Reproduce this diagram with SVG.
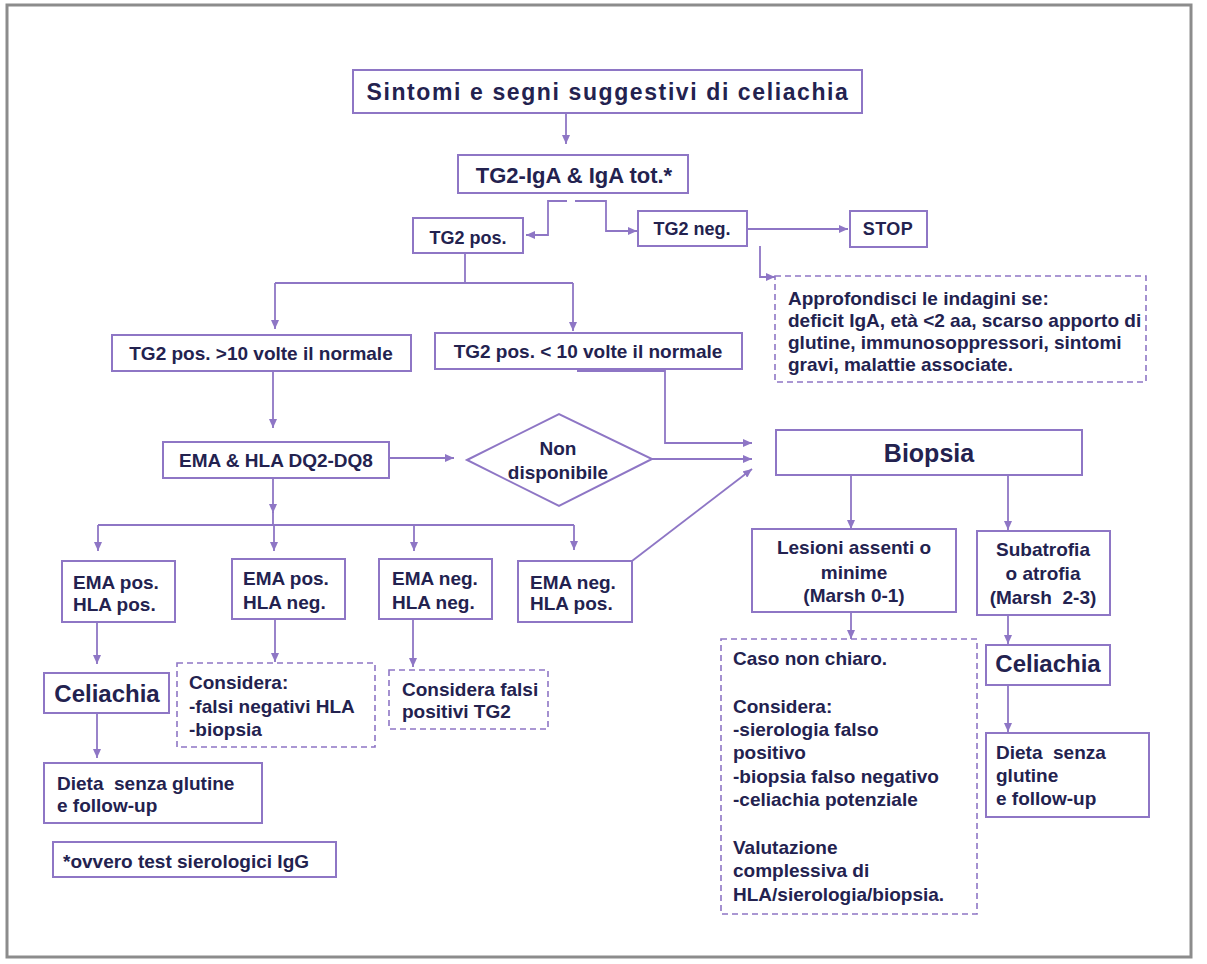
<svg xmlns="http://www.w3.org/2000/svg" width="1207" height="964" viewBox="0 0 1207 964">
<style>
.frame{fill:#fff;stroke:#8c8c8c;stroke-width:3}
.box{fill:#fff;stroke:#8e76c5;stroke-width:2}
.dbox{fill:#fff;stroke:#8e76c5;stroke-width:1.6;stroke-dasharray:6 4}
.ln{fill:none;stroke:#8e76c5;stroke-width:1.8}
.t{font-family:"Liberation Sans",Arial,sans-serif;font-weight:bold;fill:#23224f;font-size:19px}
.c{text-anchor:middle}
.s18{font-size:18px}
.s22{font-size:22px}
.s23{font-size:23px}
.s24{font-size:24px}
.s25{font-size:25px}
</style>
<defs>
<marker id="ah" markerUnits="userSpaceOnUse" markerWidth="9" markerHeight="8" refX="9" refY="4" orient="auto">
<path d="M0,0 L9,4 L0,8 z" fill="#8e76c5"/>
</marker>
</defs>
<rect class="frame" x="7" y="5" width="1184" height="952"/>

<g id="connectors">
<path class="ln" d="M566,113 V144" marker-end="url(#ah)"/>
<path class="ln" d="M567,201 H548 V235 H526" marker-end="url(#ah)"/>
<path class="ln" d="M575,201 H606 V231 H637" marker-end="url(#ah)"/>
<path class="ln" d="M747,229 H848" marker-end="url(#ah)"/>
<path class="ln" d="M760,246 V277 H775" marker-end="url(#ah)"/>
<path class="ln" d="M465,253 V283 M275,283 H573"/>
<path class="ln" d="M275,283 V329" marker-end="url(#ah)"/>
<path class="ln" d="M573,283 V331" marker-end="url(#ah)"/>
<path class="ln" d="M273,371 V428" marker-end="url(#ah)"/>
<path class="ln" d="M577,371 H665 V443 H752" marker-end="url(#ah)"/>
<path class="ln" d="M389,458 H454" marker-end="url(#ah)"/>
<path class="ln" d="M652,459 H752" marker-end="url(#ah)"/>
<path class="ln" d="M632,561 L752,469" marker-end="url(#ah)"/>
<path class="ln" d="M273,478 V513" marker-end="url(#ah)"/>
<path class="ln" d="M273,512 V525 M98,525 H574"/>
<path class="ln" d="M98,525 V551" marker-end="url(#ah)"/>
<path class="ln" d="M274,525 V551" marker-end="url(#ah)"/>
<path class="ln" d="M414,525 V551" marker-end="url(#ah)"/>
<path class="ln" d="M574,525 V550" marker-end="url(#ah)"/>
<path class="ln" d="M97,622 V664" marker-end="url(#ah)"/>
<path class="ln" d="M97,713 V758" marker-end="url(#ah)"/>
<path class="ln" d="M275,619 V662" marker-end="url(#ah)"/>
<path class="ln" d="M413,619 V667" marker-end="url(#ah)"/>
<path class="ln" d="M851,475 V529" marker-end="url(#ah)"/>
<path class="ln" d="M1008,475 V530" marker-end="url(#ah)"/>
<path class="ln" d="M851,612 V639" marker-end="url(#ah)"/>
<path class="ln" d="M1008,615 V644" marker-end="url(#ah)"/>
<path class="ln" d="M1008,685 V732" marker-end="url(#ah)"/>
</g>

<g id="n-sintomi"><rect class="box" x="353" y="70" width="509" height="43"/>
<text class="t c s23" x="608" y="100" letter-spacing="1.6">Sintomi e segni suggestivi di celiachia</text></g>
<g id="n-tg2iga"><rect class="box" x="458" y="155" width="230" height="38"/>
<text class="t c s22" x="574" y="183">TG2-IgA &amp; IgA tot.*</text></g>
<g id="n-tg2pos"><rect class="box" x="413" y="218" width="110" height="35"/>
<text class="t c s18" x="468" y="244">TG2 pos.</text></g>
<g id="n-tg2neg"><rect class="box" x="638" y="211" width="109" height="35"/>
<text class="t c s18" x="692" y="235">TG2 neg.</text></g>
<g id="n-stop"><rect class="box" x="850" y="211" width="77" height="36"/>
<text class="t c s18" x="888" y="235" letter-spacing="0.5">STOP</text></g>
<g id="n-approfondisci"><rect class="dbox" x="775" y="276" width="371" height="106"/>
<text class="t" x="788" y="305">Approfondisci le indagini se:</text>
<text class="t" x="788" y="327">deficit IgA, età &lt;2 aa, scarso apporto di</text>
<text class="t" x="788" y="349">glutine, immunosoppressori, sintomi</text>
<text class="t" x="788" y="371">gravi, malattie associate.</text></g>
<g id="n-pos10"><rect class="box" x="112" y="335" width="299" height="36"/>
<text class="t c" x="261" y="360">TG2 pos. &gt;10 volte il normale</text></g>
<g id="n-poslt10"><rect class="box" x="435" y="333" width="307" height="36"/>
<text class="t c" x="588" y="358">TG2 pos. &lt; 10 volte il normale</text></g>
<g id="n-emahla"><rect class="box" x="163" y="442" width="226" height="36"/>
<text class="t c" x="276" y="467">EMA &amp; HLA DQ2-DQ8</text></g>
<g id="n-nondisp"><polygon class="box" points="467,460 559,414 652,459 559,506" stroke-width="1.6"/>
<text class="t c" x="558" y="455">Non</text>
<text class="t c" x="558" y="479">disponibile</text></g>
<g id="n-biopsia"><rect class="box" x="776" y="430" width="306" height="45"/>
<text class="t c s25" x="929" y="462">Biopsia</text></g>
<g id="n-b1"><rect class="box" x="62" y="561" width="113" height="61"/>
<text class="t" x="73" y="589">EMA pos.</text><text class="t" x="73" y="611">HLA pos.</text></g>
<g id="n-b2"><rect class="box" x="232" y="559" width="113" height="60"/>
<text class="t" x="243" y="585">EMA pos.</text><text class="t" x="243" y="609">HLA neg.</text></g>
<g id="n-b3"><rect class="box" x="379" y="559" width="113" height="60"/>
<text class="t" x="392" y="585">EMA neg.</text><text class="t" x="392" y="609">HLA neg.</text></g>
<g id="n-b4"><rect class="box" x="518" y="561" width="114" height="61"/>
<text class="t" x="530" y="589">EMA neg.</text><text class="t" x="530" y="610">HLA pos.</text></g>
<g id="n-lesioni"><rect class="box" x="752" y="529" width="204" height="83"/>
<text class="t c" x="854" y="554">Lesioni assenti o</text>
<text class="t c" x="854" y="579">minime</text>
<text class="t c" x="854" y="602">(Marsh 0-1)</text></g>
<g id="n-subatrofia"><rect class="box" x="977" y="531" width="133" height="84"/>
<text class="t c" x="1043" y="556">Subatrofia</text>
<text class="t c" x="1043" y="580">o atrofia</text>
<text class="t c" x="1043" y="604" xml:space="preserve">(Marsh  2-3)</text></g>
<g id="n-caso"><rect class="dbox" x="721" y="639" width="256" height="275"/>
<text class="t" x="733" y="665">Caso non chiaro.</text>
<text class="t" x="733" y="713">Considera:</text>
<text class="t" x="733" y="736">-sierologia falso</text>
<text class="t" x="733" y="759">positivo</text>
<text class="t" x="733" y="783">-biopsia falso negativo</text>
<text class="t" x="733" y="806">-celiachia potenziale</text>
<text class="t" x="733" y="854">Valutazione</text>
<text class="t" x="733" y="877">complessiva di</text>
<text class="t" x="733" y="901">HLA/sierologia/biopsia.</text></g>
<g id="n-celiachia-r"><rect class="box" x="986" y="645" width="124" height="40"/>
<text class="t c s24" x="1048" y="672">Celiachia</text></g>
<g id="n-dieta-r"><rect class="box" x="986" y="733" width="163" height="84"/>
<text class="t" x="996" y="759" xml:space="preserve">Dieta  senza</text>
<text class="t" x="996" y="782">glutine</text>
<text class="t" x="996" y="805">e follow-up</text></g>
<g id="n-celiachia-l"><rect class="box" x="44" y="673" width="125" height="40"/>
<text class="t c s24" x="107" y="702">Celiachia</text></g>
<g id="n-dieta-l"><rect class="box" x="44" y="763" width="218" height="60"/>
<text class="t" x="57" y="790" xml:space="preserve">Dieta  senza glutine</text>
<text class="t" x="57" y="812">e follow-up</text></g>
<g id="n-footnote"><rect class="box" x="53" y="842" width="283" height="35"/>
<text class="t" x="63" y="868">*ovvero test sierologici IgG</text></g>
<g id="n-considera1"><rect class="dbox" x="177" y="663" width="198" height="84"/>
<text class="t" x="189" y="689">Considera:</text>
<text class="t" x="189" y="713">-falsi negativi HLA</text>
<text class="t" x="189" y="736">-biopsia</text></g>
<g id="n-considera2"><rect class="dbox" x="389" y="670" width="159" height="59"/>
<text class="t" x="402" y="696">Considera falsi</text>
<text class="t" x="402" y="718">positivi TG2</text></g>
</svg>
